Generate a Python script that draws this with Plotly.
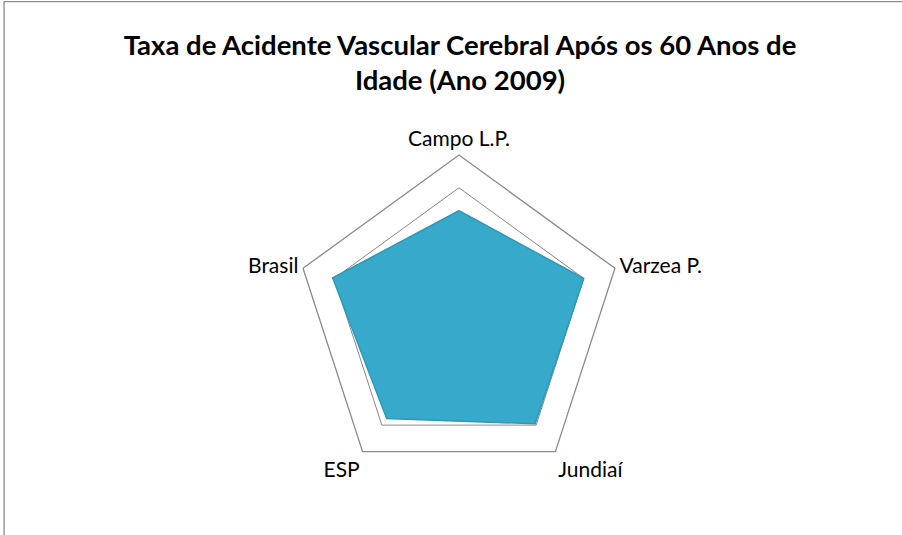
import plotly.graph_objects as go

# categories and values (scale 0-10)
categories = ['Campo L.P.', 'Varzea P.', 'Jundiaí', 'ESP', 'Brasil']
taxa_2009 = [6.6, 8.0, 7.9, 7.5, 8.1]

r = taxa_2009 + taxa_2009[:1]
theta = categories + categories[:1]

data = [go.Scatterpolar(
    r=r, theta=theta, mode='lines', fill='toself',
    fillcolor='#37a9cb', line=dict(color='#2f98b6', width=1.5),
    hoverinfo='r+theta', showlegend=False,
)]

layout = go.Layout(
    width=902, height=535,
    margin=dict(l=0, r=0, t=0, b=0),
    paper_bgcolor='white',
    font=dict(family='Lato', color='black'),
    title=dict(
        text='<b>Taxa de Acidente Vascular Cerebral Após os 60 Anos de<br>Idade (Ano 2009)</b>',
        x=0.51, xanchor='center', y=0.898, yanchor='middle',
        font=dict(family='Lato', size=27.5, color='black'),
    ),
    polar=dict(
        domain=dict(x=[0.327, 0.6907], y=[0.0972, 0.7103]),
        gridshape='linear',
        bgcolor='white',
        radialaxis=dict(range=[0, 10], dtick=2, showticklabels=False, ticks='',
                        showline=False, showgrid=True, gridcolor='#8a8a8a', gridwidth=1.3),
        angularaxis=dict(direction='clockwise', rotation=90, showgrid=False,
                         showline=True, linecolor='#8a8a8a', linewidth=1.3, ticks='',
                         tickfont=dict(family='Lato', size=21, color='black')),
    ),
    shapes=[dict(type='rect', xref='paper', yref='paper', x0=0.0045, y0=-0.05, x1=1.05, y1=0.997,
                 line=dict(color='#8c8c8c', width=1.3), fillcolor='rgba(0,0,0,0)', layer='above')],
)

fig = go.Figure(data, layout)
fig.write_html('out.html', config={'displayModeBar': False},
               post_script="document.body.style.margin='0';")
